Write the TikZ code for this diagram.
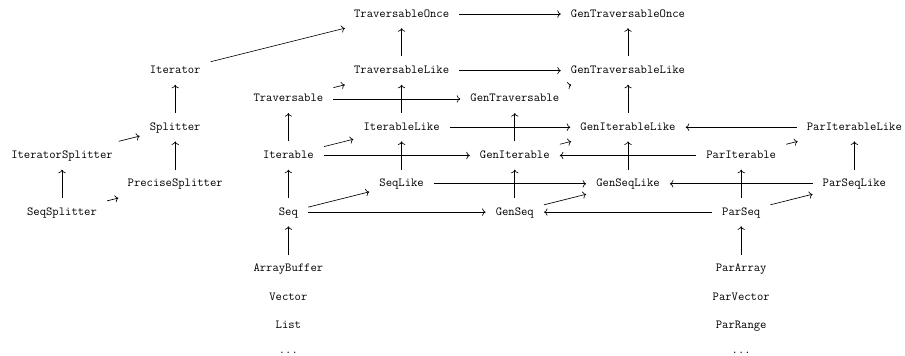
\documentclass[tikz,border=0pt]{standalone}
\usetikzlibrary{arrows.meta}
\begin{document}
\begin{tikzpicture}[
  x={(113.2pt,0)}, y={(0,-28.3pt)},
  cell/.style={inner xsep=10pt, inner ysep=0pt, minimum height=28pt,
    text height=8.5pt, text depth=2.5pt,
    font=\fontsize{12.3}{14}\selectfont\ttfamily},
  ar/.style={-{Computer Modern Rightarrow[scale=1.15]}, line width=0.65pt}
]
\useasboundingbox (0,0) rectangle (905pt,-356pt);
\begin{scope}[shift={(62pt,-14pt)}]
\node[cell] (TO)   at (3,0)  {TraversableOnce};
\node[cell] (GTO)  at (5,0)  {GenTraversableOnce};
\node[cell] (It)   at (1,2)  {Iterator};
\node[cell] (TL)   at (3,2)  {TraversableLike};
\node[cell] (GTL)  at (5,2)  {GenTraversableLike};
\node[cell] (Tr)   at (2,3)  {Traversable};
\node[cell] (GTr)  at (4,3)  {GenTraversable};
\node[cell] (Sp)   at (1,4)  {Splitter};
\node[cell] (IL)   at (3,4)  {IterableLike};
\node[cell] (GIL)  at (5,4)  {GenIterableLike};
\node[cell] (PIL)  at (7,4)  {ParIterableLike};
\node[cell] (ISp)  at (0,5)  {IteratorSplitter};
\node[cell] (Ible) at (2,5)  {Iterable};
\node[cell] (GI)   at (4,5)  {GenIterable};
\node[cell] (PI)   at (6,5)  {ParIterable};
\node[cell] (PSp)  at (1,6)  {PreciseSplitter};
\node[cell] (SL)   at (3,6)  {SeqLike};
\node[cell] (GSL)  at (5,6)  {GenSeqLike};
\node[cell] (PSL)  at (7,6)  {ParSeqLike};
\node[cell] (SSp)  at (0,7)  {SeqSplitter};
\node[cell] (Seq)  at (2,7)  {Seq};
\node[cell] (GS)   at (4,7)  {GenSeq};
\node[cell] (PS)   at (6,7)  {ParSeq};
\node[cell] (AB)   at (2,9)  {ArrayBuffer};
\node[cell] (Vec)  at (2,10) {Vector};
\node[cell] (Lst)  at (2,11) {List};
\node[cell, yshift=3pt] (D1) at (2,12) {...};
\node[cell] (PA)   at (6,9)  {ParArray};
\node[cell] (PV)   at (6,10) {ParVector};
\node[cell] (PR)   at (6,11) {ParRange};
\node[cell, yshift=3pt] (D2) at (6,12) {...};
\end{scope}
% edges
\draw[ar] (It) -- (TO);
\draw[ar] (TO) -- (GTO);
\draw[ar] (TL) -- (TO);
\draw[ar] (GTL) -- (GTO);
\draw[ar] (TL) -- (GTL);
\draw[ar] (Tr) -- (TL);
\draw[ar] (Tr) -- (GTr);
\draw[ar] (GTr) -- (GTL);
\draw[ar] (Ible) -- (Tr);
\draw[ar] (IL) -- (TL);
\draw[ar] (IL) -- (GIL);
\draw[ar] (GI) -- (GTr);
\draw[ar] (GIL) -- (GTL);
\draw[ar] (PIL) -- (GIL);
\draw[ar] (Ible) -- (IL);
\draw[ar] (Ible) -- (GI);
\draw[ar] (GI) -- (GIL);
\draw[ar] (PI) -- (GI);
\draw[ar] (PI) -- (PIL);
\draw[ar] (GSL) -- (GIL);
\draw[ar] (PSL) -- (PIL);
\draw[ar] (Seq) -- (Ible);
\draw[ar] (SL) -- (IL);
\draw[ar] (GS) -- (GI);
\draw[ar] (PS) -- (PI);
\draw[ar] (Seq) -- (SL);
\draw[ar] (Seq) -- (GS);
\draw[ar] (SL) -- (GSL);
\draw[ar] (GS) -- (GSL);
\draw[ar] (PS) -- (GS);
\draw[ar] (PSL) -- (GSL);
\draw[ar] (PS) -- (PSL);
\draw[ar] (AB) -- (Seq);
\draw[ar] (PA) -- (PS);
\draw[ar] (Sp) -- (It);
\draw[ar] (PSp) -- (Sp);
\draw[ar] (ISp) -- (Sp);
\draw[ar] (SSp) -- (ISp);
\draw[ar] (SSp) -- (PSp);
\end{tikzpicture}
\end{document}
